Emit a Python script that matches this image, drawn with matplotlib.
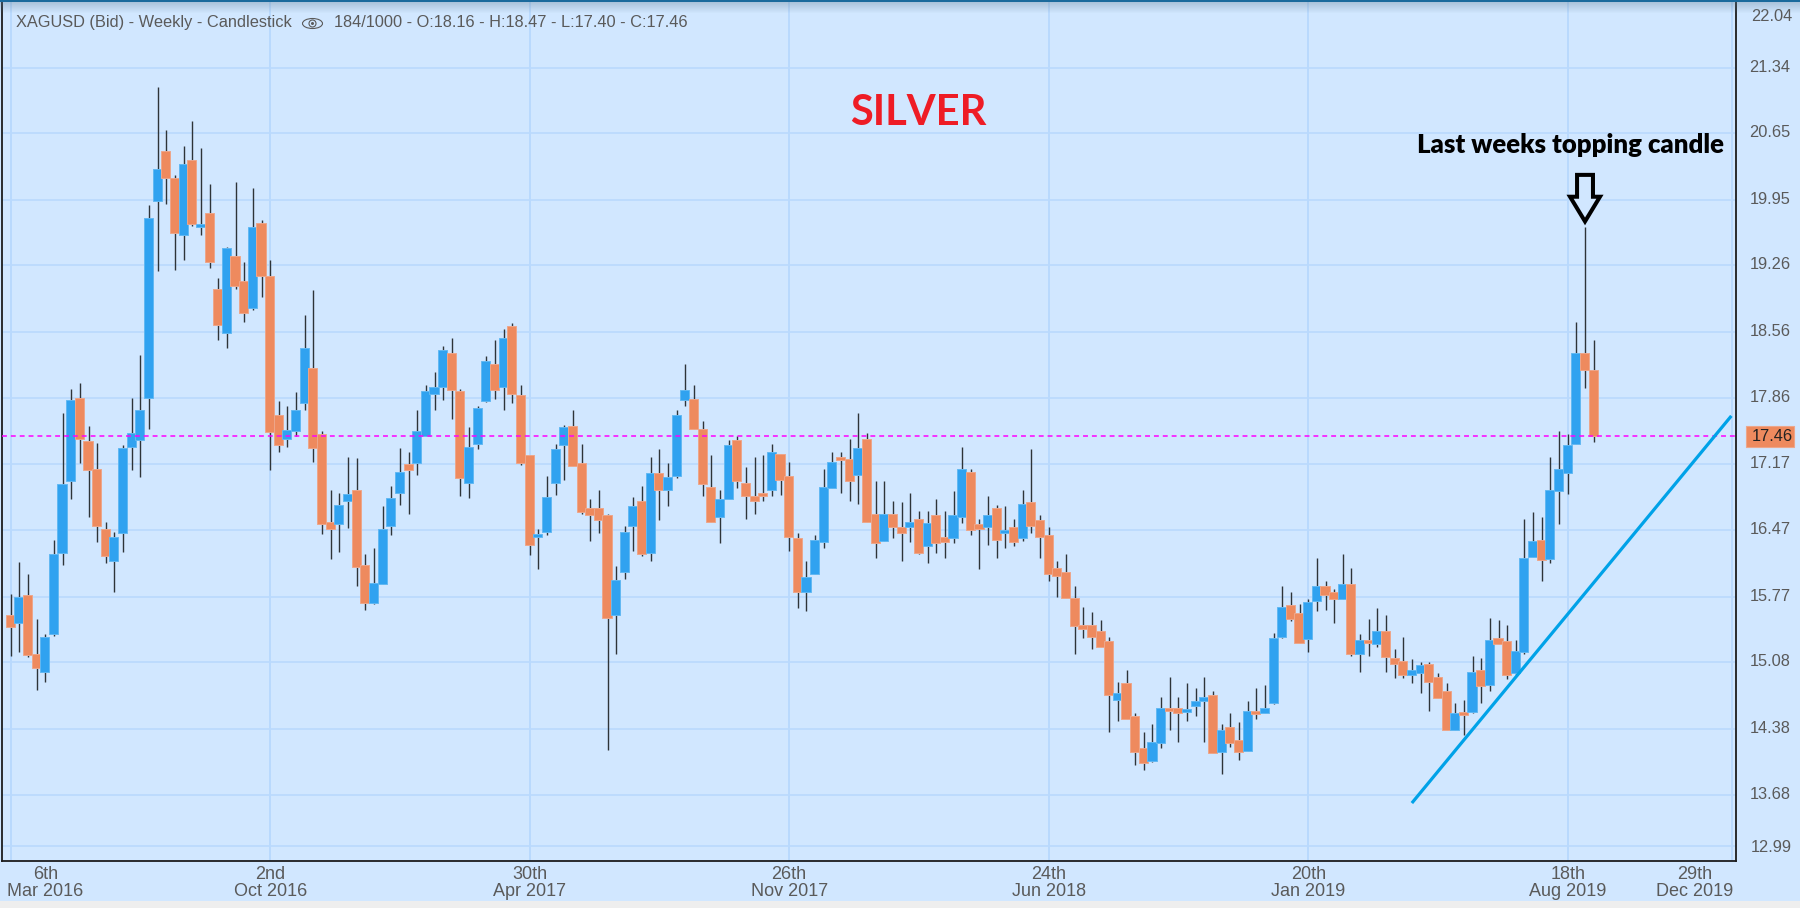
import numpy as np
import matplotlib
matplotlib.use('Agg')
import matplotlib.pyplot as plt
from matplotlib.patches import Polygon, Ellipse, Rectangle
from matplotlib.transforms import ScaledTranslation

# weekly candles, first one is 6th Mar 2016
opens = [15.58,15.49,15.79,15.17,14.98,15.38,16.23,16.99,17.86,17.41,
         17.11,16.48,16.15,16.44,17.35,17.42,17.86,19.93,20.46,20.18,
         19.58,20.37,19.66,19.81,19.01,18.55,19.36,19.09,18.81,19.70,
         19.15,17.68,17.43,17.51,17.81,18.18,17.48,16.56,16.53,16.78,
         16.89,16.10,15.70,15.90,16.51,16.86,17.17,17.18,17.46,17.90,
         17.98,18.33,17.93,16.97,17.38,17.83,18.22,17.98,18.62,17.89,
         17.26,16.40,16.45,16.97,17.37,17.57,17.18,16.70,16.70,16.63,
         15.58,16.03,16.51,16.78,16.23,17.07,16.89,17.04,17.84,17.85,
         17.54,16.92,16.61,16.80,17.42,16.97,16.83,16.86,16.89,17.27,
         17.04,16.39,15.82,16.01,16.34,16.91,17.24,17.22,17.05,17.43,
         16.64,16.36,16.64,16.50,16.50,16.59,16.30,16.63,16.40,16.39,
         16.61,17.08,16.53,16.50,16.70,16.44,16.50,16.39,16.77,16.58,
         16.42,16.07,16.03,15.76,15.47,15.47,15.41,15.30,14.68,14.86,
         14.51,14.18,14.04,14.23,14.60,14.60,14.56,14.62,14.67,14.73,
         14.13,14.40,14.26,14.15,14.57,14.54,14.65,15.34,15.68,15.60,
         15.32,15.72,15.88,15.82,15.74,15.90,15.17,15.31,15.27,15.41,
         15.12,15.09,14.95,14.97,15.06,14.92,14.78,14.37,14.56,14.56,
         15.00,14.84,15.33,15.30,14.97,15.19,16.19,16.37,16.17,16.88,
         17.07,17.38,18.33,18.16]
closes = [15.45,15.77,15.16,15.02,15.34,16.22,16.96,17.84,17.43,17.10,
          16.51,16.20,16.40,17.33,17.49,17.73,19.76,20.27,20.18,19.60,
          20.32,19.69,19.69,19.29,18.63,19.44,19.04,18.76,19.66,19.15,
          17.50,17.37,17.52,17.73,18.39,17.34,16.53,16.48,16.73,16.85,
          16.08,15.70,15.91,16.48,16.81,17.08,17.10,17.51,17.93,17.98,
          18.37,17.95,17.02,17.35,17.76,18.25,17.95,18.49,17.90,17.18,
          16.31,16.43,16.82,17.32,17.56,17.15,16.66,16.63,16.58,15.55,
          15.95,16.45,16.72,16.22,17.07,16.89,17.03,17.68,17.95,17.54,
          16.96,16.56,16.80,17.37,16.99,16.83,16.78,16.83,17.29,17.00,
          16.40,15.82,15.98,16.37,16.92,17.19,17.21,16.99,17.33,16.56,
          16.33,16.64,16.50,16.44,16.56,16.23,16.54,16.33,16.34,16.63,
          17.11,16.47,16.48,16.63,16.37,16.47,16.34,16.75,16.51,16.40,
          16.01,15.99,15.76,15.46,15.43,15.34,15.24,14.73,14.76,14.48,
          14.13,14.02,14.24,14.60,14.57,14.54,14.59,14.67,14.71,14.12,
          14.37,14.23,14.13,14.57,14.53,14.60,15.33,15.66,15.53,15.28,
          15.71,15.88,15.79,15.74,15.90,15.17,15.31,15.28,15.41,15.13,
          15.06,14.94,15.00,15.05,14.87,14.70,14.37,14.54,14.52,14.98,
          14.83,15.31,15.27,14.95,15.20,16.18,16.36,16.16,16.89,17.11,
          17.37,18.34,18.16,17.46]
highs = [15.80,16.13,16.01,15.53,15.38,16.37,17.70,17.96,18.02,17.57,
         17.39,16.56,16.45,17.37,17.86,18.31,19.89,21.14,20.68,20.21,
         20.51,20.78,20.49,20.11,19.12,19.45,20.13,19.29,20.07,19.73,
         19.31,17.83,17.78,17.92,18.74,19.00,17.51,16.89,16.86,17.24,
         17.23,16.22,16.28,16.72,16.94,17.34,17.29,17.73,18.00,18.14,
         18.41,18.49,17.96,17.56,17.78,18.30,18.47,18.59,18.65,18.00,
         17.26,16.48,17.04,17.38,17.58,17.74,17.38,16.80,16.89,16.64,
         16.09,16.51,16.82,16.94,17.24,17.32,17.18,17.74,18.22,18.00,
         17.62,17.26,16.89,17.42,17.46,17.14,17.24,17.26,17.38,17.27,
         17.19,16.44,16.15,16.42,17.11,17.29,17.29,17.43,17.70,17.49,
         16.99,16.99,16.78,16.77,16.86,16.67,16.67,16.80,16.67,16.88,
         17.35,17.11,16.59,16.83,16.73,16.72,16.59,16.89,17.32,16.63,
         16.50,16.15,16.22,15.88,15.66,15.61,15.52,15.34,14.87,15.00,
         14.55,14.35,14.43,14.71,14.92,14.71,14.86,14.81,14.92,14.78,
         14.43,14.55,14.45,14.67,14.81,14.84,15.39,15.88,15.82,15.69,
         15.75,16.18,15.93,15.85,16.22,16.07,15.38,15.53,15.65,15.58,
         15.22,15.34,15.11,15.08,15.08,14.97,14.86,14.65,14.68,15.15,
         15.12,15.55,15.52,15.47,15.31,16.59,16.66,16.61,17.24,17.51,
         17.48,18.66,19.66,18.47]
lows = [15.15,15.19,15.13,14.79,14.87,15.36,16.10,16.80,17.18,16.61,
        16.34,16.12,15.82,16.24,17.10,17.03,17.53,19.20,19.90,19.21,
        19.31,19.67,19.58,19.23,18.47,18.39,19.01,18.66,18.79,18.92,
        17.10,17.29,17.35,17.46,17.74,17.19,16.43,16.17,16.24,16.49,
        15.88,15.63,15.69,15.90,16.42,16.74,16.64,17.05,17.46,17.74,
        17.84,17.64,16.83,16.81,17.32,17.82,17.85,17.74,17.81,17.16,
        16.21,16.06,16.42,16.84,17.00,17.15,16.64,16.36,16.44,14.16,
        15.17,15.96,16.25,16.20,16.14,16.58,16.72,17.02,17.78,17.54,
        16.83,16.56,16.33,16.80,16.91,16.59,16.64,16.78,16.83,16.84,
        16.25,15.65,15.62,16.01,16.28,16.91,16.86,16.78,16.75,16.56,
        16.18,16.36,16.39,16.15,16.34,16.22,16.12,16.23,16.18,16.33,
        16.54,16.42,16.06,16.31,16.18,16.28,16.30,16.36,16.44,16.18,
        15.93,15.77,15.76,15.17,15.33,15.22,15.24,14.34,14.46,14.48,
        14.00,13.94,14.03,14.18,14.37,14.24,14.46,14.51,14.24,14.12,
        13.90,14.19,14.05,14.15,14.48,14.54,14.64,15.33,15.51,15.28,
        15.19,15.62,15.63,15.49,15.74,15.14,14.98,15.14,15.24,14.98,
        14.91,14.91,14.86,14.76,14.57,14.70,14.37,14.37,14.31,14.54,
        14.65,14.78,15.27,14.90,14.95,15.17,16.19,15.93,16.12,16.53,
        16.85,17.38,17.97,17.40]

y_labels = ['12.99', '13.68', '14.38', '15.08', '15.77', '16.47', '17.17',
            '17.86', '18.56', '19.26', '19.95', '20.65', '21.34', '22.04']
x_labels = ['6th\nMar 2016', '2nd\nOct 2016', '30th\nApr 2017', '26th\nNov 2017',
            '24th\nJun 2018', '20th\nJan 2019', '18th\nAug 2019', '29th\nDec 2019']
grid_weeks = [0, 30, 60, 90, 120, 150, 180, 199]
last_price = 17.46
trend_weeks = [162.1, 198.8]
trend_prices = [13.61, 17.66]

panel = '#d1e7ff'
grid_col = '#b9d9fd'
up_col = '#30a2f0'
down_col = '#ee8a5e'
text_col = '#5a5a5a'

plt.rcParams['font.family'] = ['Liberation Sans', 'DejaVu Sans']

fig = plt.figure(figsize=(18, 9.08), dpi=100, facecolor=panel)
W, H = 1800.0, 908.0
ax = fig.add_axes([2 / W, 1 - 861 / H, (1735.7 - 2) / W, (861 - 2) / H])
ax.set_facecolor(panel)

opens = np.array(opens)
closes = np.array(closes)
weeks = np.arange(len(opens))
is_up = closes >= opens

ax.set_xlim(-1.0, 199.42)
ax.set_ylim(12.987, 22.03)

# the two end labels are pushed inwards by the chart, so they do not sit on their price
y_pos = [float(v) for v in y_labels]
y_pos[0] = 13.14
y_pos[-1] = 21.89

ax.hlines(y_pos[:-1], -1, 199.42, color=grid_col, lw=1.2, zorder=1)
ax.vlines(grid_weeks, 12.987, 22.03, color=grid_col, lw=1.4, zorder=1)

ax.vlines(weeks, lows, highs, color='#2e3438', lw=1.0, zorder=2)
for i in weeks:
    face = up_col if is_up[i] else down_col
    edge = '#62b8f2' if is_up[i] else '#eda68a'
    ax.bar(i - 0.06, closes[i] - opens[i], bottom=opens[i], width=1.05,
           color=face, edgecolor=edge, linewidth=0.7, zorder=3)

ax.axhline(last_price, color='#ff00ff', lw=1.1, dashes=(3.2, 2.6), zorder=4)
ax.plot(trend_weeks, trend_prices, color='#00a2e8', lw=2.3, zorder=5)

ax.text(104.9, 20.86, 'SILVER', color='#ee1c25', fontsize=30, fontweight='bold',
        family='Lato', ha='center', va='center', zorder=6)
ax.text(180.3, 20.52, 'Last weeks topping candle', color='black', fontsize=18.5,
        fontweight='heavy', family='Lato', ha='center', va='center', zorder=6)

# hollow arrow over the last weeks candle
arrow = [(181.08, 20.21), (182.92, 20.21), (182.92, 19.98), (183.73, 19.98),
         (182, 19.72), (180.27, 19.98), (181.08, 19.98)]
ax.add_patch(Polygon(arrow, closed=True, facecolor=panel, edgecolor='black', lw=2.9,
                     joinstyle='miter', zorder=6))

for s in ['left', 'right', 'bottom']:
    ax.spines[s].set_color('#1c1c1c')
    ax.spines[s].set_linewidth(1.3)
ax.spines['top'].set_visible(False)

ax.yaxis.tick_right()
ax.set_yticks(y_pos)
ax.set_yticklabels(y_labels)
ax.tick_params(axis='y', length=0, pad=11, labelsize=11.8, labelcolor=text_col)
# labels sit a little above their grid lines
for lab in ax.get_yticklabels()[1:-1]:
    lab.set_transform(lab.get_transform() + ScaledTranslation(-1.5 / 100, 1.8 / 100, fig.dpi_scale_trans))

label_weeks = [4, 30, 60, 90, 120, 150, 180, 194.7]
ax.set_xticks(label_weeks)
ax.set_xticklabels(x_labels, linespacing=0.98)
ax.tick_params(axis='x', length=0, pad=3.5, labelsize=13, labelcolor=text_col)

# last price tag on the right axis
fig.patches.append(Rectangle((1746 / W, 1 - 446.7 / H), 48 / W, 21 / H, transform=fig.transFigure,
                             facecolor=down_col, edgecolor='#eda68a', lw=0.8, zorder=5))
fig.text(1751.5 / W, 1 - 436.5 / H, '17.46', color='#222222', fontsize=11.8, va='center', zorder=6)

# header line
fig.text(16 / W, 1 - 22.7 / H, 'XAGUSD (Bid) - Weekly - Candlestick', color=text_col,
         fontsize=11.8, va='center', zorder=6)
fig.text(334 / W, 1 - 22.7 / H, '184/1000 - O:18.16 - H:18.47 - L:17.40 - C:17.46', color=text_col,
         fontsize=11.8, va='center', zorder=6)
fig.patches.append(Ellipse((312.5 / W, 1 - 23.5 / H), 20 / W, 10 / H, transform=fig.transFigure,
                           facecolor='none', edgecolor=text_col, lw=0.8, zorder=6))
fig.patches.append(Ellipse((312.5 / W, 1 - 23.5 / H), 7 / W, 7 / H, transform=fig.transFigure,
                           facecolor='none', edgecolor=text_col, lw=0.8, zorder=6))
fig.patches.append(Ellipse((312.5 / W, 1 - 23.5 / H), 3 / W, 3 / H, transform=fig.transFigure,
                           facecolor=text_col, edgecolor='none', zorder=6))

# dark edge and soft shadow at the top, pale strip at the bottom
for k in range(11):
    fig.patches.append(Rectangle((0, 1 - (2 + k + 1) / H), 1, 1 / H, transform=fig.transFigure,
                                 facecolor='#5a7a90', edgecolor='none', alpha=0.32 * (1 - k / 11), zorder=7))
fig.patches.append(Rectangle((0, 1 - 2 / H), 1, 2 / H, transform=fig.transFigure,
                             facecolor='#1a6a9c', edgecolor='none', zorder=8))
fig.patches.append(Rectangle((0, 0), 1, 7 / H, transform=fig.transFigure,
                             facecolor='#eeeeee', edgecolor='none', zorder=8))

fig.savefig('out.png', dpi=100, facecolor=panel)
